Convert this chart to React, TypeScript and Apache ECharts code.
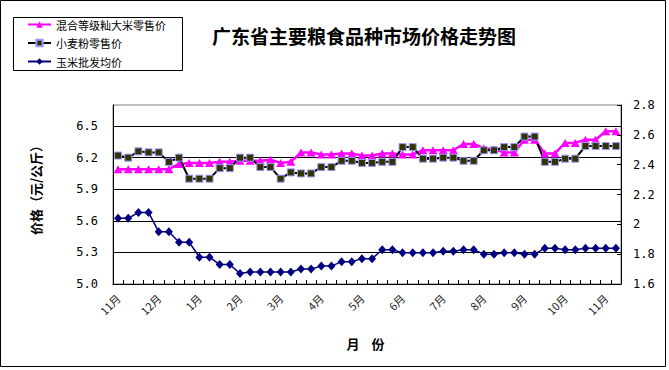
import React, { useEffect, useRef } from "react";
import * as echarts from "echarts";

// Month tick labels (one every 4 weekly observations)
const monthLabels = ["11月", "12月", "1月", "2月", "3月", "4月", "5月", "6月", "7月", "8月", "9月", "10月", "11月"];
const weeksPerMonth = 4;
const pointCount = 50;

const seriesNames = ["混合等级籼大米零售价", "小麦粉零售价", "玉米批发均价"];

// 混合等级籼大米零售价 (left axis)
const riceRetail = [
  6.09, 6.09, 6.09, 6.09, 6.09, 6.09, 6.14, 6.15, 6.15, 6.15,
  6.16, 6.16, 6.17, 6.17, 6.17, 6.18, 6.15, 6.16, 6.25, 6.25,
  6.23, 6.23, 6.24, 6.24, 6.22, 6.22, 6.24, 6.24, 6.23, 6.23,
  6.27, 6.27, 6.27, 6.27, 6.33, 6.33, 6.29, 6.28, 6.25, 6.25,
  6.37, 6.37, 6.24, 6.24, 6.34, 6.34, 6.37, 6.37, 6.45, 6.45,
];

// 小麦粉零售价 (left axis)
const flourRetail = [
  6.22, 6.2, 6.26, 6.25, 6.25, 6.16, 6.2, 6.0, 6.0, 6.0,
  6.1, 6.1, 6.2, 6.2, 6.11, 6.11, 6.0, 6.06, 6.05, 6.05,
  6.11, 6.11, 6.17, 6.17, 6.15, 6.15, 6.16, 6.16, 6.3, 6.3,
  6.19, 6.19, 6.2, 6.2, 6.17, 6.17, 6.27, 6.27, 6.3, 6.3,
  6.4, 6.4, 6.16, 6.16, 6.19, 6.19, 6.31, 6.31, 6.31, 6.31,
];

// 玉米批发均价 (right axis)
const cornWholesale = [
  2.04, 2.04, 2.08, 2.08, 1.95, 1.95, 1.88, 1.88, 1.78, 1.78,
  1.73, 1.73, 1.67, 1.68, 1.68, 1.68, 1.68, 1.68, 1.7, 1.7,
  1.72, 1.72, 1.75, 1.75, 1.77, 1.77, 1.83, 1.83, 1.81, 1.81,
  1.81, 1.81, 1.82, 1.82, 1.83, 1.83, 1.8, 1.8, 1.81, 1.81,
  1.8, 1.8, 1.84, 1.84, 1.83, 1.83, 1.84, 1.84, 1.84, 1.84,
];

// Axis ranges
const leftAxisRange = { min: 5.0, max: 6.7, interval: 0.3 };
const rightAxisRange = { min: 1.6, max: 2.8, interval: 0.2 };

const categories: string[] = Array.from({ length: pointCount }, (_, i) =>
  `${monthLabels[Math.floor(i / weeksPerMonth)]}第${(i % weeksPerMonth) + 1}周`
);

const CJK = "'Noto Sans CJK SC', 'Noto Sans', sans-serif";
const MONO = "'DejaVu Sans Mono', monospace";

export default function App() {
  const ref = useRef<HTMLDivElement>(null);

  useEffect(() => {
    if (!ref.current) return;
    const chart = echarts.init(ref.current, undefined, { renderer: "svg" });

    const option: any = {
      animation: false,
      backgroundColor: "#ffffff",
      grid: {
        left: 113,
        right: 48,
        top: 105,
        bottom: 86,
        show: true,
        borderColor: "#808080",
        borderWidth: 1,
        backgroundColor: "transparent",
      },
      legend: {
        orient: "vertical",
        left: 27,
        top: 19,
        padding: 0,
        itemWidth: 23,
        itemHeight: 8,
        itemGap: 7.5,
        textStyle: { fontFamily: CJK, fontSize: 11, color: "#000", lineHeight: 11 },
        data: seriesNames,
      },
      xAxis: {
        type: "category",
        data: categories,
        boundaryGap: true,
        axisLine: { show: true, lineStyle: { color: "#000", width: 1 } },
        axisTick: { show: true, inside: true, length: 4, interval: 0, lineStyle: { color: "#000" } },
        axisLabel: {
          interval: weeksPerMonth - 1,
          rotate: 45,
          margin: 12,
          fontFamily: CJK,
          fontSize: 11,
          color: "#222",
          formatter: (_v: string, idx: number) => monthLabels[Math.floor(idx / weeksPerMonth)],
        },
        splitLine: { show: false },
      },
      yAxis: [
        {
          type: "value",
          min: leftAxisRange.min,
          max: leftAxisRange.max,
          interval: leftAxisRange.interval,
          axisLine: { show: true, lineStyle: { color: "#000", width: 1 } },
          axisTick: { show: false },
          axisLabel: {
            margin: 15,
            fontFamily: MONO,
            fontSize: 12,
            color: "#000",
            formatter: (v: number) => (v > 6.6 ? "" : v.toFixed(1)),
          },
          splitLine: {
            show: true,
            showMinLine: false,
            showMaxLine: false,
            lineStyle: { color: "#000", width: 1 },
          },
        },
        {
          type: "value",
          min: rightAxisRange.min,
          max: rightAxisRange.max,
          interval: rightAxisRange.interval,
          position: "right",
          axisLine: { show: true, lineStyle: { color: "#000", width: 1 } },
          axisTick: { show: true, inside: true, length: 4, lineStyle: { color: "#000" } },
          axisLabel: {
            margin: 12,
            fontFamily: MONO,
            fontSize: 12,
            color: "#000",
            formatter: (v: number) => String(parseFloat(v.toFixed(1))),
          },
          splitLine: { show: false },
        },
      ],
      series: [
        {
          name: seriesNames[0],
          type: "line",
          yAxisIndex: 0,
          data: riceRetail,
          symbol: "triangle",
          symbolSize: [9, 8],
          showAllSymbol: true,
          itemStyle: { color: "#FF00FF" },
          lineStyle: { color: "#FF00FF", width: 2.5 },
        },
        {
          name: seriesNames[1],
          type: "line",
          yAxisIndex: 0,
          data: flourRetail,
          symbol: "rect",
          symbolSize: 7,
          showAllSymbol: true,
          itemStyle: { color: "#333300", borderColor: "#9999FF", borderWidth: 1 },
          lineStyle: { color: "#000000", width: 2 },
        },
        {
          name: seriesNames[2],
          type: "line",
          yAxisIndex: 1,
          data: cornWholesale,
          symbol: "diamond",
          symbolSize: [8, 9],
          showAllSymbol: true,
          itemStyle: { color: "#000080" },
          lineStyle: { color: "#000080", width: 1.5 },
        },
      ],
      graphic: [
        {
          type: "rect",
          shape: { x: 0.5, y: 0.5, width: 665, height: 366 },
          style: { fill: "none", stroke: "#000", lineWidth: 1 },
          silent: true,
          z: 100,
        },
        {
          type: "rect",
          shape: { x: 13.5, y: 17.5, width: 169, height: 53 },
          style: { fill: "none", stroke: "#000", lineWidth: 1 },
          silent: true,
        },
        {
          type: "text",
          x: 364,
          y: 35,
          style: {
            text: "广东省主要粮食品种市场价格走势图",
            fontFamily: CJK,
            fontSize: 19,
            fontWeight: "bold",
            fill: "#000",
            align: "center",
            verticalAlign: "middle",
          },
        },
        {
          type: "text",
          x: 35,
          y: 187,
          rotation: Math.PI / 2,
          style: {
            text: "价格（元/公斤）",
            fontFamily: CJK,
            fontSize: 13,
            fontWeight: "bold",
            fill: "#000",
            align: "center",
            verticalAlign: "middle",
          },
        },
        {
          type: "text",
          x: 353,
          y: 343,
          style: {
            text: "月",
            fontFamily: CJK,
            fontSize: 13,
            fontWeight: "bold",
            fill: "#000",
            align: "center",
            verticalAlign: "middle",
          },
        },
        {
          type: "text",
          x: 378,
          y: 343,
          style: {
            text: "份",
            fontFamily: CJK,
            fontSize: 13,
            fontWeight: "bold",
            fill: "#000",
            align: "center",
            verticalAlign: "middle",
          },
        },
      ],
    };

    chart.setOption(option);
    return () => chart.dispose();
  }, []);

  return (
    <div
      ref={ref}
      style={{ position: "absolute", left: 0, top: 0, width: 669, height: 370 }}
    />
  );
}
